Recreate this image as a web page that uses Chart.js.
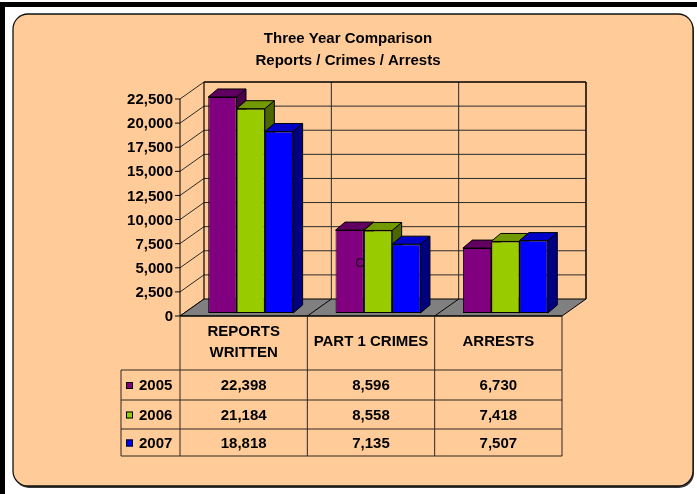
<!DOCTYPE html>
<html><head><meta charset="utf-8">
<script src="https://cdn.jsdelivr.net/npm/chart.js@4.4.0/dist/chart.umd.min.js"></script>
<style>html,body{margin:0;padding:0;background:#fff;}canvas{display:block;}</style>
</head><body>
<canvas id="c" width="697" height="494"></canvas>
<script>
// ---- data ----
const categories = ['REPORTS WRITTEN', 'PART 1 CRIMES', 'ARRESTS'];
const headerLines = [['REPORTS', 'WRITTEN'], ['PART 1 CRIMES'], ['ARRESTS']];
const seriesNames = ['2005', '2006', '2007'];
const values2005 = [22398, 8596, 6730];
const values2006 = [21184, 8558, 7418];
const values2007 = [18818, 7135, 7507];
const tableText2005 = ['22,398', '8,596', '6,730'];
const tableText2006 = ['21,184', '8,558', '7,418'];
const tableText2007 = ['18,818', '7,135', '7,507'];
const tickValues = [0, 2500, 5000, 7500, 10000, 12500, 15000, 17500, 20000, 22500];
const tickLabels = ['0', '2,500', '5,000', '7,500', '10,000', '12,500', '15,000', '17,500', '20,000', '22,500'];
const titleLines = ['Three Year Comparison', 'Reports / Crimes / Arrests'];

// ---- styles ----
const FONT = 'bold 15px "Liberation Sans", Arial, sans-serif';
const PEACH = '#FFCC99';
const frontColors = ['#800080', '#99CC00', '#0000FF'];
const topColors = ['#620062', '#739900', '#0000C8'];
const sideColors = ['#4A004A', '#4D6600', '#000080'];
const OFF_F = {x: -7, y: 3};
const OFF_B = {x: 17, y: -14};
const BAR_D = {x: 9.5, y: -8};

function poly(ctx, pts, fill, stroke, lw) {
  ctx.beginPath();
  ctx.moveTo(pts[0][0], pts[0][1]);
  for (let i = 1; i < pts.length; i++) ctx.lineTo(pts[i][0], pts[i][1]);
  ctx.closePath();
  if (fill) { ctx.fillStyle = fill; ctx.fill(); }
  if (stroke) { ctx.strokeStyle = stroke; ctx.lineWidth = lw || 1; ctx.stroke(); }
}
function line(ctx, x1, y1, x2, y2, color, lw) {
  ctx.beginPath(); ctx.moveTo(x1, y1); ctx.lineTo(x2, y2);
  ctx.strokeStyle = color; ctx.lineWidth = lw || 1; ctx.stroke();
}
function rrect(ctx, x, y, w, h, r) {
  ctx.beginPath();
  ctx.moveTo(x + r, y); ctx.lineTo(x + w - r, y); ctx.arcTo(x + w, y, x + w, y + r, r);
  ctx.lineTo(x + w, y + h - r); ctx.arcTo(x + w, y + h, x + w - r, y + h, r);
  ctx.lineTo(x + r, y + h); ctx.arcTo(x, y + h, x, y + h - r, r);
  ctx.lineTo(x, y + r); ctx.arcTo(x, y, x + r, y, r);
  ctx.closePath();
}

const plugin3d = {
  id: 'plugin3d',
  beforeDraw(chart) {
    const ctx = chart.ctx;
    ctx.save();
    ctx.fillStyle = '#fff'; ctx.fillRect(0, 0, chart.width, chart.height);
    ctx.fillStyle = '#000';
    ctx.fillRect(0, 2, 5, chart.height);
    ctx.fillRect(0, 2, chart.width, 5);
    // shadow
    rrect(ctx, 14, 16, 680, 472, 15); ctx.fillStyle = '#3a3a3a'; ctx.fill();
    rrect(ctx, 13, 14, 680, 472, 15); ctx.fillStyle = PEACH; ctx.fill();
    ctx.strokeStyle = '#111'; ctx.lineWidth = 1.3; ctx.stroke();
    // titles
    ctx.fillStyle = '#000'; ctx.font = FONT; ctx.textAlign = 'center'; ctx.textBaseline = 'middle';
    ctx.fillText(titleLines[0], 348, 39);
    ctx.fillText(titleLines[1], 348, 61);
    ctx.restore();
  },
  beforeDatasetsDraw(chart) {
    const ctx = chart.ctx, ys = chart.scales.y, xs = chart.scales.x, ca = chart.chartArea;
    const yb = v => ys.getPixelForValue(v) + OFF_B.y;
    const yf = v => ys.getPixelForValue(v) + OFF_F.y;
    const xbL = ca.left + OFF_B.x, xbR = ca.right + OFF_B.x;
    const xfL = ca.left + OFF_F.x, xfR = ca.right + OFF_F.x;
    const vMax = tickValues[tickValues.length - 1];
    const bounds = [];
    for (let i = 0; i < categories.length - 1; i++) bounds.push((xs.getPixelForValue(i) + xs.getPixelForValue(i + 1)) / 2);
    ctx.save();
    // back wall gridlines
    tickValues.forEach(v => { if (v > 0 && v < vMax) line(ctx, xbL, yb(v), xbR, yb(v), '#2a2a2a', 1); });
    // left wall diagonals
    tickValues.forEach(v => line(ctx, xfL, yf(v), xbL, yb(v), '#2a2a2a', 1));
    // back wall verticals
    bounds.forEach(b => line(ctx, b + OFF_B.x, yb(vMax), b + OFF_B.x, yb(0), '#2a2a2a', 1));
    line(ctx, xbL, yb(vMax), xbL, yb(0), '#000', 1.2);
    line(ctx, xbR, yb(vMax), xbR, yb(0), '#000', 1.5);
    line(ctx, xbL, yb(vMax), xbR, yb(vMax), '#000', 1.5);
    // floor
    poly(ctx, [[xfL, yf(0)], [xfR, yf(0)], [xbR, yb(0)], [xbL, yb(0)]], '#808080', '#000', 1);
    bounds.forEach(b => line(ctx, b + OFF_F.x, yf(0), b + OFF_B.x, yb(0), '#000', 1));
    // front axis
    line(ctx, xfL, yf(vMax), xfL, yf(0), '#000', 1);
    ctx.font = FONT; ctx.fillStyle = '#000'; ctx.textAlign = 'right'; ctx.textBaseline = 'middle';
    tickValues.forEach((v, i) => {
      line(ctx, xfL - 5, yf(v), xfL, yf(v), '#000', 1);
      ctx.fillText(tickLabels[i], xfL - 7, yf(v) + 1);
    });
    // bar tops and sides
    for (let i = 0; i < categories.length; i++) {
      for (let d = 0; d < chart.data.datasets.length; d++) {
        const el = chart.getDatasetMeta(d).data[i];
        const x0 = el.x - el.width / 2, x1 = el.x + el.width / 2, yt = el.y, y0 = el.base;
        poly(ctx, [[x1, yt], [x1 + BAR_D.x, yt + BAR_D.y], [x1 + BAR_D.x, y0 + BAR_D.y], [x1, y0]], sideColors[d], '#000', 1);
        poly(ctx, [[x0, yt], [x1, yt], [x1 + BAR_D.x, yt + BAR_D.y], [x0 + BAR_D.x, yt + BAR_D.y]], topColors[d], '#000', 1);
      }
    }
    ctx.restore();
  },
  afterDraw(chart) {
    const ctx = chart.ctx, ys = chart.scales.y, xs = chart.scales.x, ca = chart.chartArea;
    const xfL = ca.left + OFF_F.x, xfR = ca.right + OFF_F.x;
    const bounds = [xfL];
    for (let i = 0; i < categories.length - 1; i++) bounds.push((xs.getPixelForValue(i) + xs.getPixelForValue(i + 1)) / 2 + OFF_F.x);
    bounds.push(xfR);
    const top = ys.getPixelForValue(0) + OFF_F.y;
    const rowY = [top, 370, 400, 429, 456];
    const legL = 121;
    ctx.save();
    // stray label fragment visible in the source image
    ctx.font = '13px "Liberation Sans", Arial, sans-serif'; ctx.fillStyle = '#1a081a';
    ctx.textAlign = 'center'; ctx.textBaseline = 'middle';
    ctx.fillText('C', 360, 263);
    // table lines
    const lc = '#2e2620';
    line(ctx, xfL, top, xfR, top, '#000', 1.2);
    for (let r = 1; r < rowY.length; r++) line(ctx, legL, rowY[r], xfR, rowY[r], lc, 1);
    bounds.forEach(b => line(ctx, b, top, b, rowY[4], lc, 1));
    line(ctx, legL, rowY[1], legL, rowY[4], lc, 1);
    // header
    ctx.font = FONT; ctx.fillStyle = '#000';
    for (let i = 0; i < categories.length; i++) {
      const cx = xs.getPixelForValue(i) + OFF_F.x;
      const hl = headerLines[i];
      if (hl.length === 2) { ctx.fillText(hl[0], cx, 332); ctx.fillText(hl[1], cx, 353); }
      else ctx.fillText(hl[0], cx, 342);
    }
    const rows = [tableText2005, tableText2006, tableText2007];
    for (let r = 0; r < rows.length; r++) {
      const cy = (rowY[r + 1] + rowY[r + 2]) / 2 + 1;
      for (let i = 0; i < categories.length; i++) {
        ctx.textAlign = 'center';
        ctx.fillText(rows[r][i], xs.getPixelForValue(i) + OFF_F.x, cy);
      }
      // legend key
      ctx.fillStyle = frontColors[r]; ctx.fillRect(126, cy - 4, 7, 7);
      ctx.strokeStyle = '#000'; ctx.lineWidth = 1; ctx.strokeRect(126.5, cy - 3.5, 6, 6);
      ctx.fillStyle = '#000'; ctx.textAlign = 'left';
      ctx.fillText(seriesNames[r], 139, cy);
    }
    ctx.restore();
  }
};

const seriesValues = [values2005, values2006, values2007];
new Chart(document.getElementById('c').getContext('2d'), {
  type: 'bar',
  data: {
    labels: categories,
    datasets: seriesNames.map((n, d) => ({
      label: n, data: seriesValues[d],
      backgroundColor: frontColors[d], borderColor: '#000', borderWidth: 1, borderSkipped: false,
      categoryPercentage: 0.667, barPercentage: 1
    }))
  },
  options: {
    responsive: false, animation: false, devicePixelRatio: 1,
    layout: {padding: {left: 187, right: 128, top: 96, bottom: 181}},
    scales: {x: {display: false}, y: {display: false, min: 0, max: 22500}},
    plugins: {legend: {display: false}, tooltip: {enabled: false}, title: {display: false}}
  },
  plugins: [plugin3d]
});
</script>
</body></html>
